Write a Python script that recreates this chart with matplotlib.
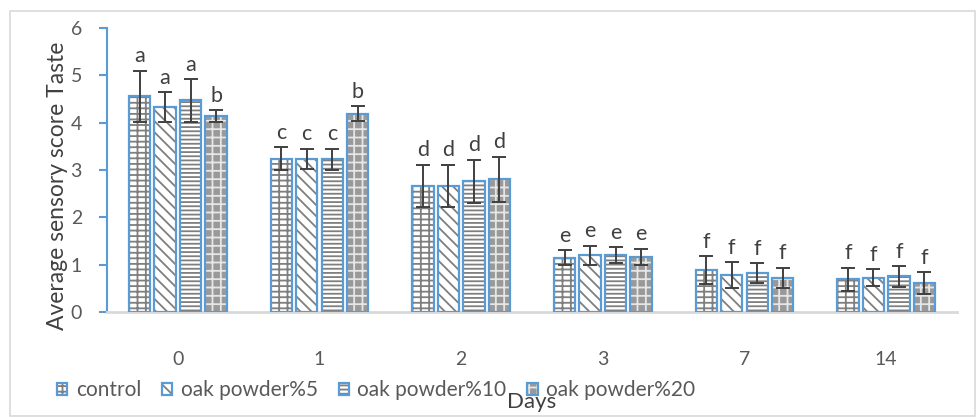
import numpy as np
import matplotlib.pyplot as plt
from matplotlib.patches import Patch, Rectangle

# ── Data ──────────────────────────────────────────────────────────────────────
days = ['0', '1', '2', '3', '7', '14']
series = ['control', 'oak powder%5', 'oak powder%10', 'oak powder%20']

control = [4.56, 3.24, 2.66, 1.15, 0.89, 0.69]
oak5    = [4.33, 3.24, 2.66, 1.20, 0.78, 0.72]
oak10   = [4.47, 3.23, 2.76, 1.20, 0.82, 0.75]
oak20   = [4.14, 4.19, 2.80, 1.17, 0.72, 0.61]

err_control = [0.54, 0.24, 0.45, 0.15, 0.29, 0.25]
err_oak5    = [0.31, 0.21, 0.45, 0.20, 0.27, 0.18]
err_oak10   = [0.45, 0.22, 0.46, 0.17, 0.21, 0.22]
err_oak20   = [0.12, 0.16, 0.48, 0.17, 0.22, 0.23]

letters_control = ['a', 'c', 'd', 'e', 'f', 'f']
letters_oak5    = ['a', 'c', 'd', 'e', 'f', 'f']
letters_oak10   = ['a', 'c', 'd', 'e', 'f', 'f']
letters_oak20   = ['b', 'b', 'd', 'e', 'f', 'f']

values  = [control, oak5, oak10, oak20]
errors  = [err_control, err_oak5, err_oak10, err_oak20]
letters = [letters_control, letters_oak5, letters_oak10, letters_oak20]

# ── Style ─────────────────────────────────────────────────────────────────────
plt.rcParams['font.family'] = ['Lato', 'DejaVu Sans']
plt.rcParams['hatch.linewidth'] = 1.3

BLUE = '#5B9BD5'
HATCH_GRAY = '#7f7f7f'
TXT = '#595959'

STYLES = [
    {'hatch': '++-',   'face': 'white',   'hcol': HATCH_GRAY},
    {'hatch': '\\\\\\', 'face': 'white',   'hcol': HATCH_GRAY},
    {'hatch': '----',  'face': 'white',   'hcol': HATCH_GRAY},
    {'hatch': '++',    'face': '#999999', 'hcol': '#e6e6e6'},
]

fig = plt.figure(figsize=(9.77, 4.17), dpi=100)
ax = fig.add_axes([0.1095, 0.2518, 0.87, 0.6811])

x = np.arange(len(days))
pitch = 0.18
width = 0.15

handles = []
for i, (vals, errs, lets, st) in enumerate(zip(values, errors, letters, STYLES)):
    pos = x + (i - 1.5) * pitch
    ax.bar(pos, vals, width, color=st['face'], edgecolor=st['hcol'],
           hatch=st['hatch'], linewidth=0, zorder=2)
    ax.bar(pos, vals, width, fill=False, edgecolor=BLUE, linewidth=1.6, zorder=3)
    ax.errorbar(pos, vals, yerr=errs, fmt='none', ecolor='#404040',
                elinewidth=1.4, capsize=5, capthick=1.4, zorder=4)
    for p, v, e, l in zip(pos, vals, errs, lets):
        ax.annotate(l, (p, v + e), xytext=(0, 6), textcoords='offset points',
                    ha='center', va='baseline', fontsize=15.5, color='#404040')
    handles.append((Patch(facecolor=st['face'], edgecolor=st['hcol'],
                          hatch=st['hatch'], linewidth=0),
                    Patch(fill=False, edgecolor=BLUE, linewidth=1.6)))

# ── Axes formatting ───────────────────────────────────────────────────────────
ax.set_xlim(-0.5, len(days) - 0.5)
ax.set_ylim(0, 6)
ax.set_yticks(range(0, 7))
ax.set_xticks(x)
ax.set_xticklabels(days)
ax.tick_params(axis='y', colors=BLUE, labelcolor=TXT, labelsize=14,
               length=6, width=1.5, pad=12, direction='out')
ax.tick_params(axis='x', length=0, labelcolor=TXT, labelsize=14, pad=28)
ax.spines[['top', 'right']].set_visible(False)
ax.spines['left'].set_color(BLUE)
ax.spines['left'].set_linewidth(1.5)
ax.spines['bottom'].set_color('#d9d9d9')
ax.spines['bottom'].set_linewidth(2)

fig.text(58 / 977, 1 - 186 / 417, 'Average sensory score Taste', rotation=90,
         ha='center', va='center', fontsize=16.5, color='#404040')

leg = fig.legend(handles, series, loc='center left',
                 bbox_to_anchor=(57 / 977, 1 - 390 / 417), ncol=4,
                 frameon=False, fontsize=15, labelcolor=TXT,
                 handlelength=0.5, handleheight=0.5, handletextpad=0.4,
                 columnspacing=1.0, borderpad=0, borderaxespad=0)

fig.text(532 / 977, 1 - 402 / 417, 'Days', ha='center', va='center',
         fontsize=16, color='#404040')

# chart border
fig.patches.append(Rectangle((10 / 977, 0.002), 1 - 10 / 977 - 0.002,
                             1 - 11 / 417 - 0.002, transform=fig.transFigure,
                             fill=False, edgecolor='#d9d9d9', linewidth=1.2))

fig.savefig('out.png', dpi=100, facecolor='white')
